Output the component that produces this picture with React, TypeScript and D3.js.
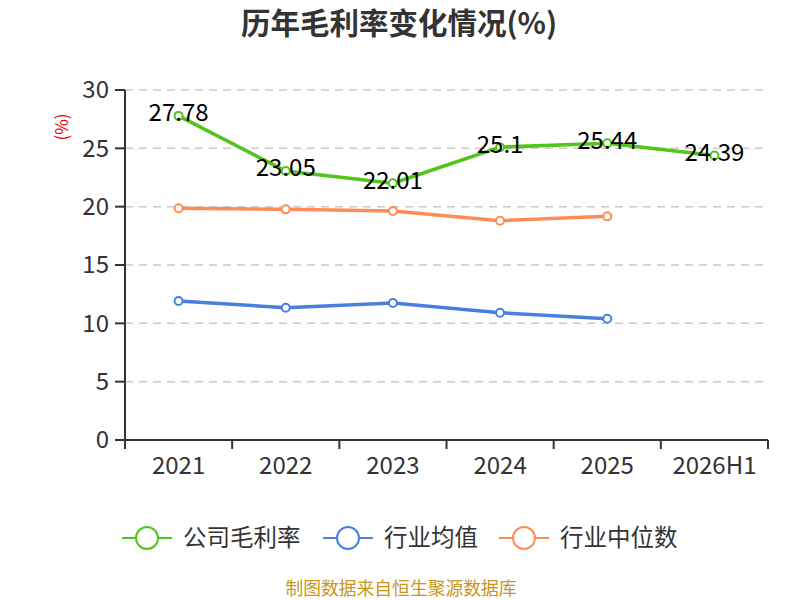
import React from "react"
import * as d3 from "d3"

const years = ["2021", "2022", "2023", "2024", "2025", "2026H1"]
const companyRate = [27.78, 23.05, 22.01, 25.1, 25.44, 24.39]
const industryAvg = [11.91, 11.34, 11.74, 10.91, 10.4]
const industryMedian = [19.86, 19.77, 19.63, 18.8, 19.17]
const yTicks = [0, 5, 10, 15, 20, 25, 30]

const seriesNames = ["公司毛利率", "行业均值", "行业中位数"]
const seriesColors = ["#52c41a", "#4a7fe0", "#ff8c55"]

const font = "'Microsoft YaHei', 'Noto Sans CJK SC', sans-serif"

export default function App() {
  const width = 800
  const height = 600
  const left = 125, right = 768, top = 90, bottom = 440

  const x = d3.scaleBand().domain(years).range([left, right])
  const y = d3.scaleLinear().domain([0, 30]).range([bottom, top])
  const cx = (i) => x(years[i]) + x.bandwidth() / 2

  const line = d3.line().x((d, i) => cx(i)).y((d) => y(d))
  const all = [companyRate, industryAvg, industryMedian]

  // legend item start positions
  const legendX = [122, 323, 499]

  return (
    <svg
      width={width}
      height={height}
      style={{ position: "absolute", left: 0, top: 0 }}
      fontFamily={font}
    >
      <rect width={width} height={height} fill="#fff" />
      <text x={399} y={34} textAnchor="middle" fontSize={29.5} fontWeight="bold" fill="#333">
        历年毛利率变化情况(%)
      </text>

      {yTicks.map((t) => (
        <g key={t}>
          {t > 0 && (
            <line x1={left} x2={right} y1={y(t)} y2={y(t)} stroke="#ccc" strokeDasharray="8,6" strokeWidth={1.5} />
          )}
          <line x1={left - 10} x2={left} y1={y(t)} y2={y(t)} stroke="#333" strokeWidth={2} />
          <text x={left - 16} y={y(t)} dy="0.35em" textAnchor="end" fontSize={24} fill="#333">
            {t}
          </text>
        </g>
      ))}
      <line x1={left} x2={left} y1={top} y2={bottom} stroke="#333" strokeWidth={2} />
      <line x1={left} x2={right} y1={bottom} y2={bottom} stroke="#333" strokeWidth={2} />
      {years.map((yr, i) => (
        <g key={yr}>
          <line x1={x(yr)} x2={x(yr)} y1={bottom} y2={bottom + 9} stroke="#333" strokeWidth={2} />
          <text x={cx(i)} y={bottom + 34} textAnchor="middle" fontSize={24} fill="#333">
            {yr}
          </text>
        </g>
      ))}
      <line x1={right} x2={right} y1={bottom} y2={bottom + 9} stroke="#333" strokeWidth={2} />

      <text transform={`translate(68,127) rotate(-90)`} textAnchor="middle" fontSize={17} fill="#e00">
        (%)
      </text>

      {all.map((s, k) => (
        <g key={k}>
          <path d={line(s)} fill="none" stroke={seriesColors[k]} strokeWidth={3.5} strokeLinejoin="round" />
          {s.map((v, i) => (
            <circle key={i} cx={cx(i)} cy={y(v)} r={4} fill="#fff" stroke={seriesColors[k]} strokeWidth={2} />
          ))}
        </g>
      ))}

      {companyRate.map((v, i) => (
        <text key={i} x={cx(i)} y={y(v) - 3} dy="0.35em" textAnchor="middle" fontSize={24} fill="#000">
          {v}
        </text>
      ))}

      {seriesNames.map((n, k) => (
        <g key={n} transform={`translate(${legendX[k]},538)`}>
          <line x1={0} x2={50} y1={0} y2={0} stroke={seriesColors[k]} strokeWidth={2} />
          <circle cx={25} cy={0} r={11} fill="#fff" stroke={seriesColors[k]} strokeWidth={2} />
          <text x={61} y={0} dy="0.35em" fontSize={23.5} fill="#333">
            {n}
          </text>
        </g>
      ))}

      <text x={401} y={595} textAnchor="middle" fontSize={17.8} fill="#c8961e">
        制图数据来自恒生聚源数据库
      </text>
    </svg>
  )
}
